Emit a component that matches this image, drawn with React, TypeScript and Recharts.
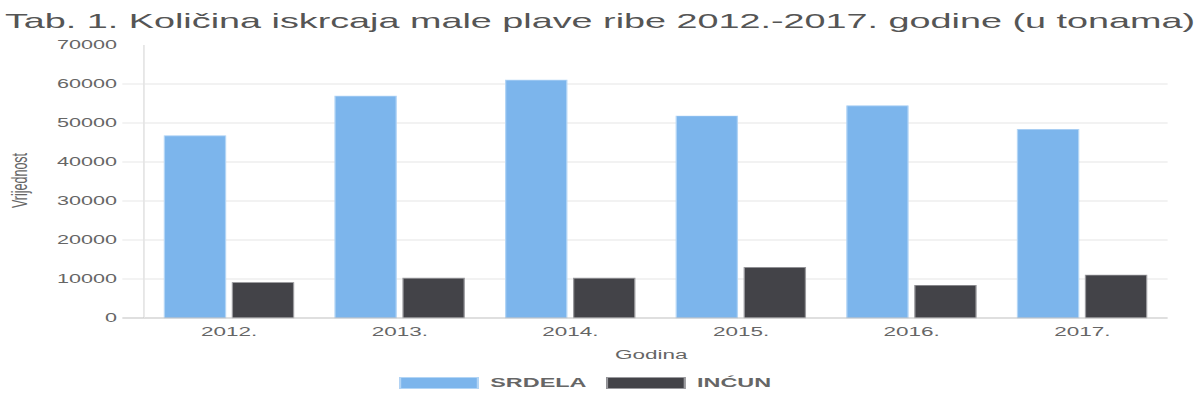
import React from 'react';
import { BarChart, Bar, XAxis, YAxis, CartesianGrid, Legend } from 'recharts';

const categories = ['2012.', '2013.', '2014.', '2015.', '2016.', '2017.'];
const srdela = [46700, 56900, 61000, 51800, 54400, 48400];
const incun = [9100, 10200, 10200, 13000, 8400, 11000];
const yTicks = [0, 10000, 20000, 30000, 40000, 50000, 60000, 70000];
const seriesNames = ['SRDELA', 'INĆUN'];
const seriesColors = ['#7cb5ec', '#434348'];
const seriesStrokes = ['#b3d5f5', '#9a9a9e'];

const data = categories.map((c, i) => ({ year: c, srdela: srdela[i], incun: incun[i] }));

const W = 667;
const H = 400;
const SX = 1200 / W;
const FONT = '"Liberation Sans", Arial, Helvetica, sans-serif';

const YTick = (props: any) => {
  const { x, y, payload } = props;
  const v = payload.value;
  const lineColor = v === 0 ? '#bfbfbf' : '#e6e6e6';
  return (
    <g>
      {v !== 70000 && (
        <line x1={x + 3} x2={x + 15} y1={y} y2={y} stroke={lineColor} strokeWidth={1} />
      )}
      <text x={x} y={y} dy="0.355em" textAnchor="end" fill="#666" fontSize={12} fontFamily={FONT}>
        {v}
      </text>
    </g>
  );
};

const YLabel = (props: any) => {
  const vb = props.viewBox || {};
  const cx = 15;
  const cy = vb.y + vb.height / 2 - 1;
  return (
    <text
      x={cx}
      y={cy}
      transform={`rotate(-90, ${cx}, ${cy})`}
      textAnchor="middle"
      fill="#666"
      fontSize={12.5}
      fontFamily={FONT}
    >
      Vrijednost
    </text>
  );
};

const XLabel = (props: any) => {
  const vb = props.viewBox || {};
  const cx = vb.x + vb.width / 2 - 2.5;
  return (
    <text x={cx} y={359.5} textAnchor="middle" fill="#666" fontSize={12.5} fontFamily={FONT}>
      Godina
    </text>
  );
};

const LegendContent = () => (
  <div style={{ display: 'flex', alignItems: 'center', marginLeft: 222, height: 18 }}>
    {seriesNames.map((n, i) => (
      <div key={n} style={{ display: 'flex', alignItems: 'center', marginRight: 11 }}>
        <div
          style={{
            width: 44,
            height: 12,
            background: seriesColors[i],
            boxSizing: 'border-box',
            border: `0.7px solid ${seriesStrokes[i]}`,
            marginRight: 6.5,
          }}
        />
        <span style={{ fontFamily: FONT, fontWeight: 'bold', fontSize: 13, color: '#666', lineHeight: '18px' }}>
          {n}
        </span>
      </div>
    ))}
  </div>
);

export default function App() {
  return (
    <div
      style={{
        position: 'absolute',
        left: 0,
        top: 0,
        width: W,
        height: H,
        transform: `scale(${SX}, 1)`,
        transformOrigin: '0 0',
        background: '#fff',
      }}
    >
      <BarChart
        width={W}
        height={H}
        data={data}
        margin={{ top: 45, right: 18, bottom: 52, left: 0 }}
        barCategoryGap="12%"
        barGap={3.8}
      >
        <CartesianGrid
          vertical={false}
          stroke="#e6e6e6"
          horizontalValues={[10000, 20000, 30000, 40000, 50000, 60000]}
        />
        <XAxis
          dataKey="year"
          stroke="#bfbfbf"
          tickLine={false}
          tickMargin={3}
          tick={{ fill: '#666', fontSize: 12.5, fontFamily: FONT }}
          height={30}
          label={XLabel}
        />
        <YAxis
          width={80}
          domain={[0, 70000]}
          ticks={yTicks}
          interval={0}
          stroke="#e6e6e6"
          tickLine={false}
          tickSize={12}
          tickMargin={3}
          tick={YTick}
          label={YLabel}
        />
        <Legend
          layout="horizontal"
          verticalAlign="middle"
          align="center"
          wrapperStyle={{ top: 374, left: 0, width: W, height: 18 }}
          content={LegendContent}
        />
        <Bar
          dataKey="srdela"
          name={seriesNames[0]}
          fill={seriesColors[0]}
          stroke={seriesStrokes[0]}
          strokeWidth={0.7}
          isAnimationActive={false}
        />
        <Bar
          dataKey="incun"
          name={seriesNames[1]}
          fill={seriesColors[1]}
          stroke={seriesStrokes[1]}
          strokeWidth={0.7}
          isAnimationActive={false}
        />
      </BarChart>
      <svg
        width={W}
        height={40}
        style={{ position: 'absolute', left: 0, top: 0, pointerEvents: 'none' }}
      >
        <text x={W / 2} y={28} textAnchor="middle" fill="#555" fontSize={21} fontFamily={FONT}>
          Tab. 1. Količina iskrcaja male plave ribe 2012.-2017. godine (u tonama)
        </text>
      </svg>
    </div>
  );
}
